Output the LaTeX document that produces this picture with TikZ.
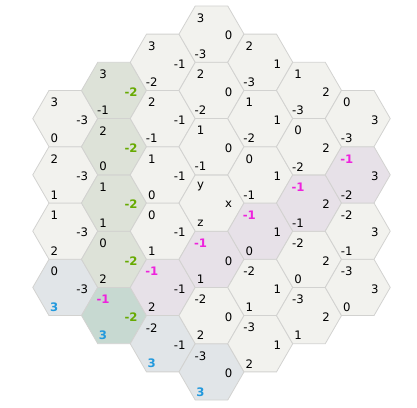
\documentclass[tikz,border=0pt]{standalone}
\usepackage{fontspec}
\setmainfont{DejaVu Sans}
\usetikzlibrary{shapes.geometric}

\definecolor{cellgray}{HTML}{F2F2EE}
\definecolor{cellgreen}{HTML}{DDE2D8}
\definecolor{cellpurple}{HTML}{E7E1E8}
\definecolor{cellblue}{HTML}{E1E5E8}
\definecolor{cellteal}{HTML}{C7D9D1}
\definecolor{cellline}{HTML}{D2D2D0}
\definecolor{xhot}{HTML}{66AA00}
\definecolor{yhot}{HTML}{EE22DD}
\definecolor{zhot}{HTML}{2299DD}

\tikzset{
  cell/.style={regular polygon, regular polygon sides=6, minimum size=65pt,
    inner sep=0pt, outer sep=0pt, draw=cellline, line width=0.8pt},
  num/.style={inner sep=0pt, font=\fontsize{11.7}{14}\selectfont}
}

\begin{document}
\begin{tikzpicture}[x=1pt, y=-1pt]
\useasboundingbox (0,0) rectangle (417,407);
\foreach \hx in {-3,...,3}
  \foreach \hy in {-3,...,3} {
    \pgfmathtruncatemacro\hz{-\hx-\hy}
    \ifnum\hz>3 \else\ifnum\hz<-3 \else
      \pgfmathsetmacro\px{211.5+48.75*\hx}
      \pgfmathsetmacro\py{203-28.145*(\hy-\hz)}
      % which lines does this cell lie on
      \def\cellfill{cellgray}
      \def\xcol{black}\def\ycol{black}\def\zcol{black}
      \let\xbf\relax\let\ybf\relax\let\zbf\relax
      \edef\xtxt{\hx}\edef\ytxt{\hy}\edef\ztxt{\hz}
      \ifnum\hx=-2 \def\cellfill{cellgreen}\def\xcol{xhot}\let\xbf\bfseries\fi
      \ifnum\hy=-1 \def\cellfill{cellpurple}\def\ycol{yhot}\let\ybf\bfseries\fi
      \ifnum\hz=3 \def\cellfill{cellblue}\def\zcol{zhot}\let\zbf\bfseries\fi
      \ifnum\hx=-2 \ifnum\hy=-1 \def\cellfill{cellteal}\fi\fi
      % the origin shows the axis names
      \ifnum\hx=0 \ifnum\hy=0 \def\xtxt{x}\def\ytxt{y}\def\ztxt{z}\fi\fi
      \node[cell, fill=\cellfill] (c\hx\hy) at (\px,\py) {};
      \node[num, text=\ycol] (y\hx\hy) at ([shift={(-11,-16)}]c\hx\hy) {\ybf\ytxt};
      \node[num, text=\xcol] (x\hx\hy) at ([shift={(17,1.5)}]c\hx\hy) {\xbf\xtxt};
      \node[num, text=\zcol] (z\hx\hy) at ([shift={(-11,20)}]c\hx\hy) {\zbf\ztxt};
    \fi\fi
  }
\end{tikzpicture}
\end{document}
